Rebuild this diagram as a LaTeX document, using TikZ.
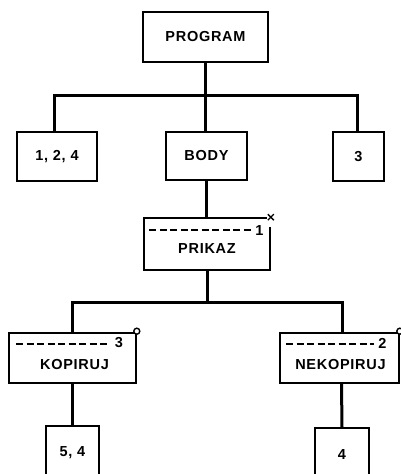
\documentclass[tikz,border=0pt]{standalone}
\usepackage{fontspec}
\newfontfamily\lblfont[LetterSpace=5]{Liberation Sans}
\usetikzlibrary{calc}
\begin{document}
\begin{tikzpicture}[x=1pt,y=-1pt,
  box/.style={draw, rectangle, line width=1.6pt, inner sep=0pt},
  lbl/.style={font=\lblfont\bfseries\fontsize{14.5}{16}\selectfont, inner sep=0pt},
  conn/.style={line width=3pt},
  sepline/.style={line width=1.8pt, dash pattern=on 7pt off 3.5pt},
  ring/.style={circle, draw, fill=white, line width=1.4pt, minimum size=6pt, inner sep=0pt},
  mask/.style={fill=white, inner sep=0pt, minimum width=7pt, minimum height=13pt}]
\clip (0,0) rectangle (401,474);

% boxes
\node[box, lbl, minimum width=125pt, minimum height=50pt] (prog) at (205.5,37) {PROGRAM};
\node[box, lbl, minimum width=80pt, minimum height=49pt] (n124) at (57,156.5) {1, 2, 4};
\node[box, lbl, minimum width=81pt, minimum height=48pt] (body) at (206.5,156) {BODY};
\node[box, lbl, minimum width=51pt, minimum height=49pt] (n3) at (358.5,156.5) {3};
\node[box, minimum width=126pt, minimum height=52pt] (prikaz) at (207,244) {};
\node[box, minimum width=127pt, minimum height=50pt] (kop) at (72.5,358) {};
\node[box, minimum width=119pt, minimum height=50pt] (nekop) at (339.5,358) {};
\node[box, lbl, minimum width=53pt, minimum height=54pt] (n54) at (72.5,453) {5, 4};
\node[box, lbl, minimum width=54pt, minimum height=54pt] (n4) at (342,455) {4};

% labels of the boxes with a separator line
\node[lbl] (prikazT) at (207,249) {PRIKAZ};
\node[lbl] (kopT) at (74.5,365) {KOPIRUJ};
\node[lbl] (nekopT) at (340.5,365) {NEKOPIRUJ};

\draw[sepline] ($(prikaz.north west)+(6,13)$) -- ($(prikaz.north west)+(109,13)$);
\node[lbl] (prikazN) at (259.5,231) {1};
\draw[sepline] ($(kop.north west)+(8,12)$) -- ($(kop.north west)+(101,12)$);
\node[lbl] (kopN) at (119,343) {3};
\draw[sepline] ($(nekop.north west)+(7,12)$) -- ($(nekop.north west)+(95,12)$);
\node[lbl] (nekopN) at (382.5,343) {2};

% connectors
\coordinate (j1) at (205.5,95);
\coordinate (j2) at (207,302);
\draw[conn] (prog.south) -- (prog.south |- body.north);
\draw[conn] ([xshift=-3pt]n124.north) |- (j1) -| ([xshift=-1.5pt]n3.north);
\draw[conn] (body.south) -- (body.south |- prikaz.north);
\draw[conn] (prikaz.south) -- (j2);
\draw[conn] (kop.north) |- (j2) -| ([xshift=2.5pt]nekop.north);
\draw[conn] (kop.south) -- (n54.north);
\draw[conn] ([xshift=2pt]nekop.south) -- (n4.north);

% corner marks
\node[mask] (prikazM) at ($(prikaz.north east)+(0,3)$) {};
\draw[line width=1.4pt] ($(prikaz.north east)+(-3,-3)$) -- ($(prikaz.north east)+(3,3)$)
  ($(prikaz.north east)+(-3,3)$) -- ($(prikaz.north east)+(3,-3)$);
\node[ring] (kopM) at ($(kop.north east)+(0,-1)$) {};
\node[ring] (nekopM) at ($(nekop.north east)+(0,-1)$) {};
\end{tikzpicture}
\end{document}
